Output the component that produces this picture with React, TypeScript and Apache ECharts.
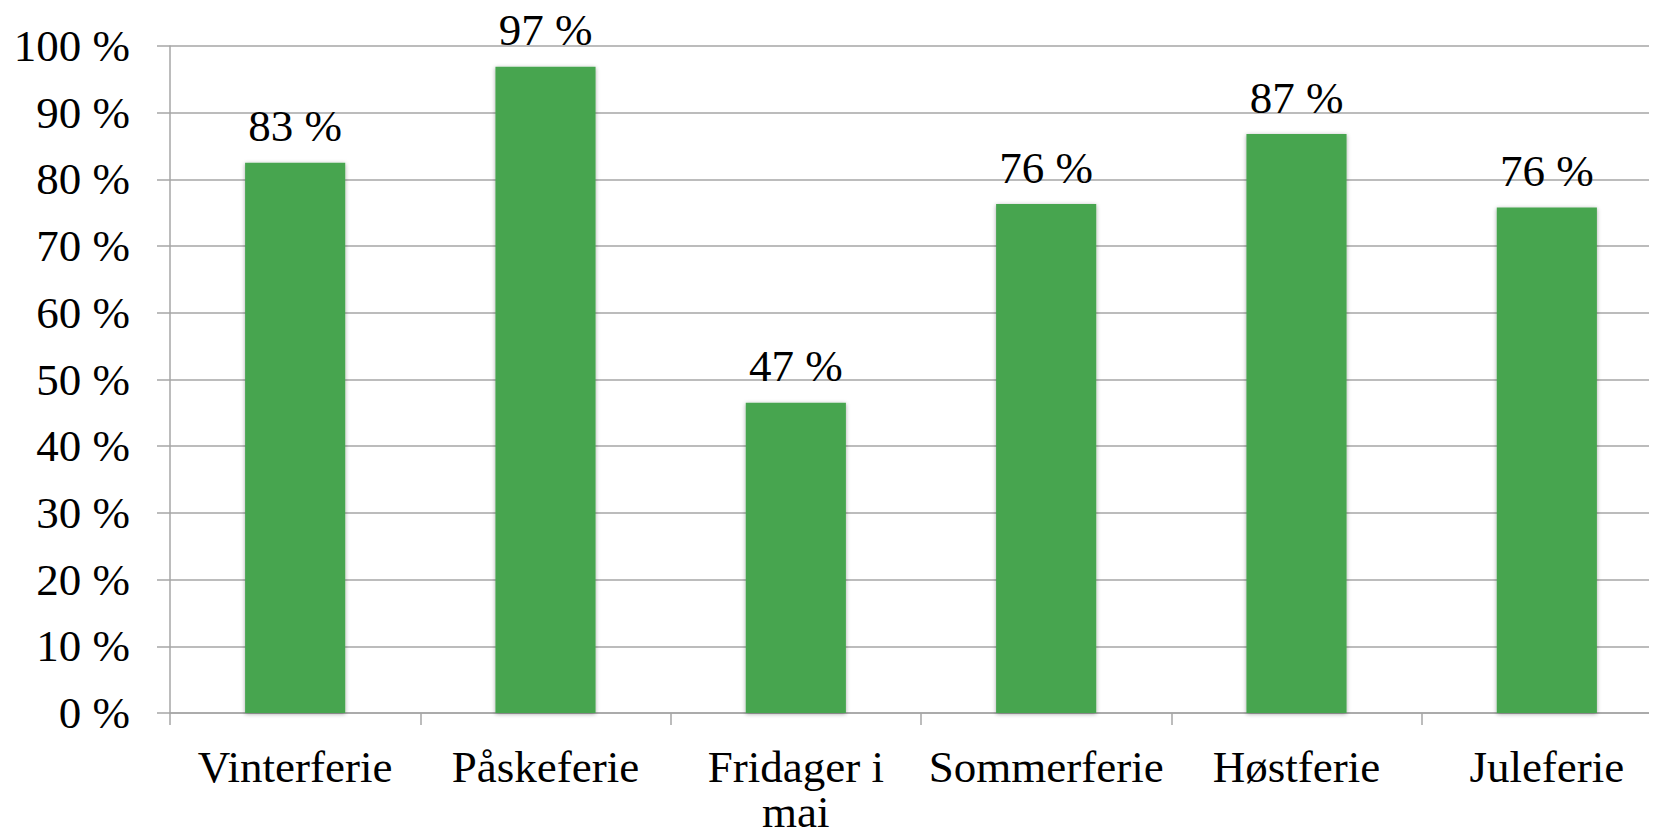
import React, { useEffect, useRef } from "react";
import * as echarts from "echarts";

const categories = ["Vinterferie", "Påskeferie", "Fridager i\nmai", "Sommerferie", "Høstferie", "Juleferie"];
const values = [82.5, 96.9, 46.5, 76.3, 86.8, 75.8];
const yTicks = { min: 0, max: 100, interval: 10 };

const FONT = "'Liberation Serif', 'DejaVu Serif', serif";

export default function App() {
  const ref = useRef<HTMLDivElement>(null);
  useEffect(() => {
    if (!ref.current) return;
    const chart = echarts.init(ref.current, null, { renderer: "svg" });
    chart.setOption({
      animation: false,
      backgroundColor: "#ffffff",
      grid: { left: 170, top: 46, bottom: 122, right: 0, containLabel: false, outerBoundsMode: "none" },
      xAxis: {
        type: "category",
        data: categories,
        boundaryGap: true,
        axisLine: { show: true, lineStyle: { color: "#a6a6a6", width: 1.5 } },
        axisTick: { show: true, length: 12, lineStyle: { color: "#a6a6a6", width: 1.5 } },
        axisLabel: {
          color: "#000",
          fontFamily: FONT,
          fontSize: 45,
          lineHeight: 45,
          margin: 31,
          interval: 0,
        },
      },
      yAxis: {
        type: "value",
        min: yTicks.min,
        max: yTicks.max,
        interval: yTicks.interval,
        axisLine: { show: true, lineStyle: { color: "#a6a6a6", width: 1.5 } },
        axisTick: { show: true, length: 13, lineStyle: { color: "#a6a6a6", width: 1.5 } },
        splitLine: { show: true, lineStyle: { color: "#a6a6a6", width: 1.5 } },
        axisLabel: {
          color: "#000",
          fontFamily: FONT,
          fontSize: 45,
          margin: 40,
          padding: [8, 0, 0, 0],
          formatter: "{value} %",
        },
      },
      series: [
        {
          type: "bar",
          data: values,
          barWidth: "40%",
          itemStyle: {
            color: "#47a54f",
            shadowColor: "rgba(0,0,0,0.35)",
            shadowBlur: 4,
            shadowOffsetX: 0,
            shadowOffsetY: 1,
          },
          label: {
            show: true,
            position: "top",
            distance: 14,
            color: "#000",
            fontFamily: FONT,
            fontSize: 45,
            formatter: (p: any) => `${Math.round(p.value)} %`,
          },
        },
      ],
    });
    return () => chart.dispose();
  }, []);
  return (
    <div style={{ width: 1657, height: 835, margin: -8, overflow: "hidden", position: "relative" }}>
      <div ref={ref} style={{ width: 1672, height: 835 }} />
    </div>
  );
}
